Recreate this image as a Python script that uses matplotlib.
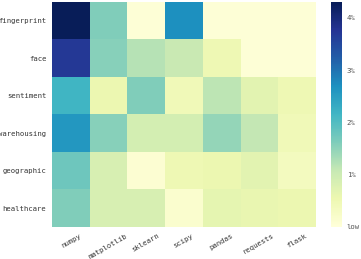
import numpy as np
import matplotlib
matplotlib.use("Agg")
import matplotlib.pyplot as plt

topics = ["fingerprint", "face", "sentiment", "warehousing", "geographic", "healthcare"]
libs = ["numpy", "matplotlib", "sklearn", "scipy", "pandas", "requests", "flask"]

# share of projects (%) per topic / library
fingerprint = [4.3, 1.6, 0.05, 2.7, 0.05, 0.05, 0.05]
face = [3.7, 1.55, 1.2, 1.05, 0.5, 0.05, 0.05]
sentiment = [2.15, 0.55, 1.6, 0.45, 1.15, 0.7, 0.5]
warehousing = [2.6, 1.55, 0.9, 0.9, 1.45, 1.1, 0.45]
geographic = [1.75, 0.85, 0.1, 0.5, 0.55, 0.7, 0.35]
healthcare = [1.6, 0.85, 0.85, 0.15, 0.65, 0.6, 0.55]

cbar_ticks = [0, 1, 2, 3, 4]
cbar_labels = ["low", "1%", "2%", "3%", "4%"]

data = np.array([fingerprint, face, sentiment, warehousing, geographic, healthcare])

plt.rcParams["font.family"] = "DejaVu Sans Mono"
fig = plt.figure(figsize=(3.61, 2.59), dpi=100)
ax = fig.add_axes([0.144, 0.124, 0.729, 0.868])
cax = fig.add_axes([0.917, 0.124, 0.03, 0.868])

im = ax.imshow(data, cmap="YlGnBu", vmin=0, vmax=4.3, aspect="auto",
               interpolation="nearest")
ax.set_xticks(range(len(libs)))
ax.set_xticklabels(libs, rotation=30, fontsize=5.2, color="#333333")
ax.set_yticks(range(len(topics)))
ax.set_yticklabels(topics, fontsize=5.2, color="#333333")
ax.tick_params(length=0, pad=4)
for s in ax.spines.values():
    s.set_visible(False)

cb = fig.colorbar(im, cax=cax, ticks=cbar_ticks)
cb.ax.set_yticklabels(cbar_labels)
cb.ax.tick_params(length=0, labelsize=5.2, labelcolor="#555555")
cb.outline.set_visible(False)

fig.savefig("out.png", dpi=100)
